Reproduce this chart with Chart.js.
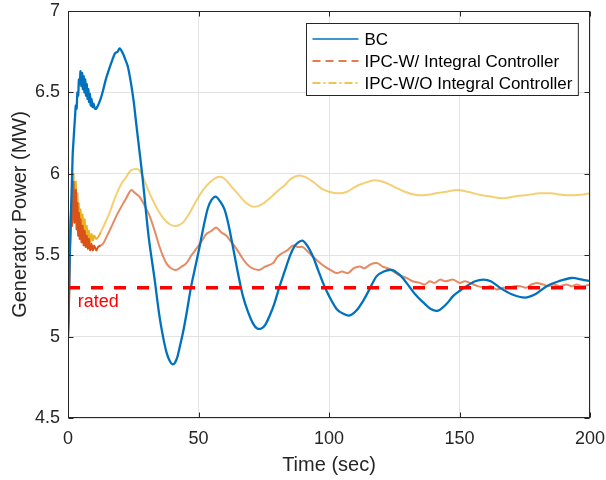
<!DOCTYPE html>
<html>
<head>
<meta charset="utf-8">
<script src="https://cdn.jsdelivr.net/npm/chart.js@4/dist/chart.umd.min.js"></script>
<style>
  html, body { margin: 0; padding: 0; background: #ffffff; }
  canvas { display: block; }
</style>
</head>
<body>
<canvas id="c" width="606" height="480"></canvas>
<script>
// Generator output power of a wind turbine under three pitch controllers
const seriesNames = ['BC', 'IPC-W/ Integral Controller', 'IPC-W/O Integral Controller'];

// Baseline controller (time in s, power in MW)
const bcTime = [0, 0.3, 0.6, 0.9, 1.2, 1.5, 1.8, 2.1, 2.4, 2.7, 3.0, 3.3, 3.6, 3.9, 4.2, 4.5, 4.8, 5.1, 5.4, 5.7, 6.0, 6.3, 6.6, 6.9, 7.2, 7.5, 7.8, 8.1, 8.4, 8.7, 9.0, 9.4, 9.8, 10.3, 10.8, 11.5, 12.5, 13.4, 14.5, 15.9, 17, 18, 19, 19.8, 21, 22, 22.9, 24.2, 25.2, 26.2, 27.3, 28.4, 29.3, 31, 33.2, 35, 36.4, 37.8, 39, 40, 41, 42, 43, 44, 45.5, 47.2, 48.8, 50.4, 52, 53.6, 55, 56.6, 58.3, 60, 61.6, 63.2, 65, 67, 69, 70.9, 72.5, 74.1, 75.5, 77.3, 79, 81.1, 83, 84.9, 87, 89.8, 92, 93.9, 95.8, 97.7, 100, 102.9, 105.5, 108, 110.5, 113.1, 115.5, 118.2, 121, 124, 127, 129.7, 133, 136.1, 139, 141.8, 145, 147.6, 150, 152.7, 156, 159.1, 162, 165.5, 170, 175.1, 179, 183.4, 188, 193, 197, 200];
const bcPower = [5.0, 5.2, 5.45, 5.6, 5.8, 5.95, 6.12, 6.2, 6.28, 6.35, 6.42, 6.4, 6.5, 6.48, 6.58, 6.55, 6.63, 6.54, 6.62, 6.52, 6.6, 6.5, 6.58, 6.48, 6.55, 6.46, 6.52, 6.44, 6.49, 6.42, 6.46, 6.41, 6.43, 6.40, 6.40, 6.42, 6.46, 6.51, 6.58, 6.65, 6.70, 6.74, 6.75, 6.77, 6.74, 6.70, 6.66, 6.55, 6.44, 6.30, 6.15, 6.0, 5.86, 5.6, 5.35, 5.13, 5.0, 4.9, 4.85, 4.83, 4.84, 4.88, 4.95, 5.02, 5.15, 5.31, 5.43, 5.55, 5.68, 5.79, 5.84, 5.86, 5.83, 5.78, 5.68, 5.55, 5.40, 5.25, 5.15, 5.08, 5.05, 5.05, 5.07, 5.13, 5.2, 5.31, 5.40, 5.49, 5.56, 5.59, 5.55, 5.49, 5.41, 5.33, 5.25, 5.17, 5.14, 5.13, 5.16, 5.22, 5.29, 5.37, 5.40, 5.41, 5.38, 5.33, 5.26, 5.21, 5.17, 5.16, 5.2, 5.25, 5.28, 5.31, 5.34, 5.35, 5.34, 5.30, 5.26, 5.24, 5.26, 5.31, 5.34, 5.36, 5.35, 5.34];

// Individual pitch control with integral controller
const ipcITime = [0, 0.3, 0.6, 0.9, 1.2, 1.5, 1.8, 2.1, 2.4, 2.7, 3.0, 3.3, 3.6, 3.9, 4.2, 4.5, 4.8, 5.2, 5.6, 6.0, 6.4, 6.8, 7.2, 7.6, 8.0, 8.5, 9.0, 9.5, 10, 10.8, 11.5, 12.5, 13.4, 15, 16.8, 18.5, 20.5, 22.3, 24.2, 25.8, 27.4, 29.5, 31.3, 33.2, 35.1, 36.5, 37.7, 39.5, 41.5, 43.5, 45.3, 47.3, 49.2, 51, 53, 55, 56.8, 58.8, 60.7, 62.6, 64.5, 66.5, 68.3, 70.5, 73.4, 75.5, 78.5, 80.2, 81.8, 84, 86.2, 88, 90, 92, 93.9, 96, 98.4, 100.5, 102.9, 105, 107.3, 109.5, 111.8, 113.5, 115.6, 117.2, 118.8, 120.5, 122.5, 124.6, 126.5, 129.7, 132, 134.8, 136.7, 138.6, 140.5, 142.5, 144.5, 147.6, 150, 152, 154, 157, 160, 162, 164.2, 167, 169, 171, 173.2, 175.5, 177.5, 179.6, 182, 184, 186, 188.5, 191, 193, 194.9, 197, 200];
const ipcIPower = [5.0, 5.12, 5.4, 5.65, 5.75, 5.68, 5.9, 5.95, 5.7, 5.85, 5.9, 5.66, 5.82, 5.62, 5.76, 5.6, 5.72, 5.58, 5.68, 5.56, 5.65, 5.55, 5.62, 5.54, 5.6, 5.53, 5.57, 5.53, 5.56, 5.53, 5.55, 5.56, 5.57, 5.62, 5.68, 5.74, 5.80, 5.85, 5.90, 5.88, 5.86, 5.80, 5.74, 5.65, 5.55, 5.49, 5.45, 5.42, 5.41, 5.43, 5.45, 5.50, 5.54, 5.58, 5.63, 5.65, 5.67, 5.64, 5.62, 5.58, 5.54, 5.49, 5.45, 5.42, 5.41, 5.43, 5.45, 5.49, 5.51, 5.53, 5.56, 5.55, 5.55, 5.52, 5.49, 5.46, 5.43, 5.41, 5.39, 5.40, 5.39, 5.42, 5.43, 5.42, 5.44, 5.45, 5.45, 5.43, 5.42, 5.40, 5.38, 5.36, 5.34, 5.33, 5.32, 5.34, 5.33, 5.35, 5.34, 5.35, 5.33, 5.34, 5.33, 5.31, 5.30, 5.31, 5.29, 5.30, 5.30, 5.31, 5.31, 5.30, 5.32, 5.33, 5.32, 5.31, 5.32, 5.31, 5.32, 5.31, 5.32, 5.31, 5.32];

// Individual pitch control without integral controller
const ipcTime = [0, 0.3, 0.6, 0.9, 1.2, 1.5, 1.8, 2.1, 2.4, 2.7, 3.0, 3.3, 3.6, 3.9, 4.2, 4.5, 4.8, 5.2, 5.6, 6.0, 6.4, 6.8, 7.2, 7.6, 8.0, 8.5, 9.0, 9.5, 10, 10.8, 11.5, 12.5, 14, 15.9, 17.5, 19, 20.5, 22.3, 24, 26.2, 27.5, 29, 31.3, 34, 36.4, 39, 41.5, 44, 46.6, 49, 51.7, 54.5, 57.5, 60, 63.2, 66, 68.3, 70.5, 72.5, 75, 77.3, 80, 83, 85.5, 88.5, 91, 94, 97, 100, 103.5, 107, 110, 113, 117.5, 121, 125, 129, 133.5, 137, 141, 145, 148.9, 153, 158, 162, 166.8, 171, 176, 180.8, 185, 190, 195, 200];
const ipcPower = [5.0, 5.15, 5.45, 5.7, 5.8, 5.7, 5.95, 6.0, 5.75, 5.9, 5.95, 5.7, 5.88, 5.66, 5.82, 5.66, 5.78, 5.63, 5.75, 5.62, 5.72, 5.6, 5.68, 5.59, 5.65, 5.58, 5.63, 5.59, 5.62, 5.60, 5.61, 5.64, 5.69, 5.76, 5.83, 5.89, 5.94, 5.98, 6.02, 6.03, 6.02, 5.97, 5.88, 5.79, 5.73, 5.69, 5.68, 5.70, 5.76, 5.83, 5.90, 5.95, 5.98, 5.97, 5.91, 5.86, 5.82, 5.80, 5.80, 5.82, 5.85, 5.89, 5.93, 5.97, 5.99, 5.98, 5.95, 5.91, 5.89, 5.88, 5.89, 5.92, 5.94, 5.96, 5.95, 5.92, 5.89, 5.87, 5.87, 5.88, 5.89, 5.90, 5.89, 5.87, 5.86, 5.85, 5.86, 5.87, 5.88, 5.88, 5.87, 5.87, 5.88];

// Rated power reference
const ratedPower = 5.3;
const ratedSpan = [0, 200];
const ratedLabel = 'rated';

// Axes
const xTicks = [0, 50, 100, 150, 200];
const xTickLabels = ['0', '50', '100', '150', '200'];
const yTicks = [4.5, 5, 5.5, 6, 6.5, 7];
const yTickLabels = ['4.5', '5', '5.5', '6', '6.5', '7'];

const FONT = '"Liberation Sans", Arial, Helvetica, sans-serif';
const AXIS_COLOR = '#262626';
const COLORS = ['#0072BD', '#D95319', '#EDB120'];
const FADED = ['#0072BD', 'rgba(217,83,25,0.68)', 'rgba(237,177,32,0.62)'];
const LEGEND_DASH = [[], [8, 5], [8, 3, 2, 3]];

const toPoints = (t, v) => t.map((x, i) => ({ x: x, y: v[i] }));

// Early transient is dense, so it reads as a darker trace
const fadedAfter = (i) => (ctx) => ctx.p0.parsed.x < 12 ? COLORS[i] : FADED[i];

const frameAndLegend = {
  id: 'frameAndLegend',
  afterDatasetsDraw(chart) {
    const { ctx, chartArea: a, scales: { x, y } } = chart;
    ctx.save();

    // "rated" note below the reference line
    ctx.fillStyle = '#FF0000';
    ctx.font = '18px ' + FONT;
    ctx.textAlign = 'left';
    ctx.textBaseline = 'alphabetic';
    ctx.fillText(ratedLabel, x.getPixelForValue(3.7), y.getPixelForValue(ratedPower) + 19);

    // Axes box with inward ticks on all four sides
    const L = Math.round(a.left) + 0.5, R = Math.round(a.right) - 0.5;
    const T = Math.round(a.top) + 0.5, B = Math.round(a.bottom) - 0.5;
    ctx.strokeStyle = AXIS_COLOR;
    ctx.lineWidth = 1;
    ctx.strokeRect(L, T, R - L, B - T);
    const tl = 5;
    ctx.beginPath();
    xTicks.forEach(v => {
      const px = Math.round(x.getPixelForValue(v)) + 0.5;
      ctx.moveTo(px, B); ctx.lineTo(px, B - tl);
      ctx.moveTo(px, T); ctx.lineTo(px, T + tl);
    });
    yTicks.forEach(v => {
      const py = Math.round(y.getPixelForValue(v)) + 0.5;
      ctx.moveTo(L, py); ctx.lineTo(L + tl, py);
      ctx.moveTo(R, py); ctx.lineTo(R - tl, py);
    });
    ctx.stroke();

    // Legend box in the upper right corner
    ctx.font = '17px ' + FONT;
    const textW = Math.max(...seriesNames.map(s => ctx.measureText(s).width));
    const sampleL = 6, sampleLen = 46, textGap = 6, rowH = 22, padR = 6;
    const boxW = sampleL + sampleLen + textGap + textW + padR;
    const boxH = rowH * seriesNames.length + 6;
    const bx = Math.round(a.right - 12 - boxW) + 0.5;
    const by = Math.round(a.top + 12) + 0.5;
    ctx.fillStyle = '#ffffff';
    ctx.fillRect(bx, by, boxW, boxH);
    ctx.strokeStyle = AXIS_COLOR;
    ctx.lineWidth = 1;
    ctx.strokeRect(bx, by, boxW, boxH);
    seriesNames.forEach((name, i) => {
      const cy = by + 15.5 + i * rowH;
      ctx.beginPath();
      ctx.setLineDash(LEGEND_DASH[i]);
      ctx.strokeStyle = COLORS[i];
      ctx.lineWidth = 1.6;
      ctx.moveTo(bx + sampleL, cy);
      ctx.lineTo(bx + sampleL + sampleLen, cy);
      ctx.stroke();
      ctx.setLineDash([]);
      ctx.fillStyle = '#000000';
      ctx.textBaseline = 'middle';
      ctx.fillText(name, bx + sampleL + sampleLen + textGap, cy + 1);
    });
    ctx.restore();
  }
};

new Chart(document.getElementById('c'), {
  type: 'line',
  data: {
    datasets: [
      {
        label: 'rated',
        data: ratedSpan.map(t => ({ x: t, y: ratedPower })),
        borderColor: '#FF0000',
        borderWidth: 3.5,
        borderDash: [12, 11],
        pointRadius: 0,
        order: 0
      },
      {
        label: seriesNames[0],
        data: toPoints(bcTime, bcPower),
        borderColor: COLORS[0],
        borderWidth: 2.3,
        pointRadius: 0,
        tension: 0.3,
        order: 1
      },
      {
        label: seriesNames[1],
        data: toPoints(ipcITime, ipcIPower),
        borderColor: FADED[1],
        segment: { borderColor: fadedAfter(1) },
        borderWidth: 2,
        pointRadius: 0,
        tension: 0.3,
        order: 2
      },
      {
        label: seriesNames[2],
        data: toPoints(ipcTime, ipcPower),
        borderColor: FADED[2],
        segment: { borderColor: fadedAfter(2) },
        borderWidth: 2,
        pointRadius: 0,
        tension: 0.3,
        order: 3
      }
    ]
  },
  options: {
    responsive: false,
    animation: false,
    devicePixelRatio: 1,
    layout: { padding: { top: 11, right: 16, left: 0, bottom: 0 } },
    plugins: { legend: { display: false }, tooltip: { enabled: false } },
    scales: {
      x: {
        type: 'linear',
        min: 0, max: 200,
        afterBuildTicks: (s) => { s.ticks = xTicks.map(v => ({ value: v })); },
        afterFit: (s) => { s.height = 62; s.paddingLeft = 0; s.paddingRight = 0; },
        grid: { color: '#E3E3E3', lineWidth: 1, drawTicks: false },
        border: { display: false },
        ticks: {
          padding: 10,
          color: AXIS_COLOR,
          font: { family: FONT, size: 18 },
          maxRotation: 0,
          callback: (v, i) => xTickLabels[i]
        },
        title: {
          display: true,
          text: 'Time (sec)',
          color: AXIS_COLOR,
          font: { family: FONT, size: 20 },
          padding: { top: 0, bottom: 3 }
        }
      },
      y: {
        type: 'linear',
        min: 4.5, max: 7,
        afterBuildTicks: (s) => { s.ticks = yTicks.map(v => ({ value: v })); },
        afterFit: (s) => { s.width = 68; s.paddingTop = 0; s.paddingBottom = 0; },
        grid: { color: '#E3E3E3', lineWidth: 1, drawTicks: false },
        border: { display: false },
        ticks: {
          padding: 8,
          color: AXIS_COLOR,
          font: { family: FONT, size: 18 },
          callback: (v, i) => yTickLabels[i]
        },
        title: {
          display: true,
          text: 'Generator Power (MW)',
          color: AXIS_COLOR,
          font: { family: FONT, size: 20 },
          padding: { top: 8, bottom: 8 }
        }
      }
    }
  },
  plugins: [frameAndLegend]
});
</script>
</body>
</html>
